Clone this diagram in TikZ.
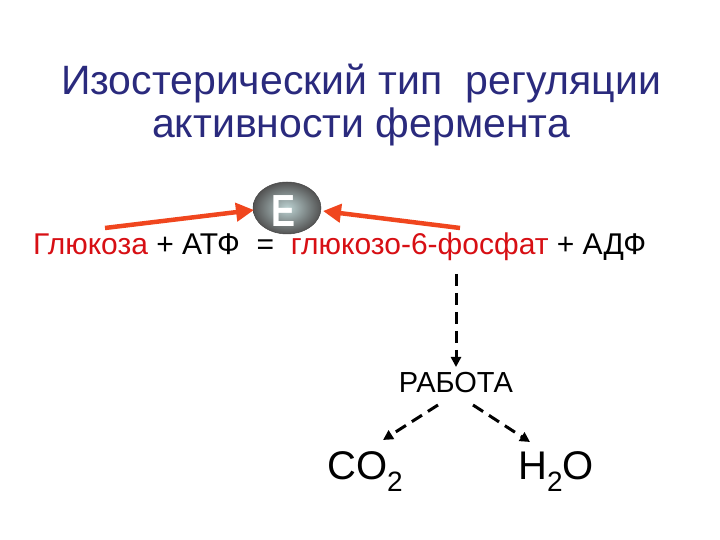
\documentclass[tikz,border=0pt]{standalone}
\usepackage{fontspec}
\setmainfont{Liberation Sans}
\usetikzlibrary{arrows.meta,shapes.geometric}
\definecolor{titleblue}{RGB}{42,42,125}
\definecolor{chemred}{RGB}{215,15,20}
\definecolor{arrred}{RGB}{240,70,30}
\newcommand{\subtwo}{\raisebox{-0.28em}{\fontsize{28}{28}\selectfont 2}}
\begin{document}
\begin{tikzpicture}[x=1pt,y=1pt,
  title/.style={font=\fontsize{41}{45}\selectfont, text=titleblue, anchor=base, inner sep=0pt},
  eq/.style={font=\fontsize{30}{33}\selectfont, inner sep=0pt, text height=21pt},
  redarrow/.style={draw=arrred, line width=4.5pt, -{Triangle[length=18pt,width=18pt]}},
  dasharrow/.style={draw=black, line width=3pt, dash pattern=on 12pt off 7pt, -{Triangle[length=10pt,width=10pt]}},
  big/.style={font=\fontsize{40}{44}\selectfont, inner sep=0pt, anchor=base}]
\useasboundingbox (0,0) rectangle (720,540);
\node[title] (t1) at (361,445) {Изостерический тип\ \ регуляции};
\node[title] (t2) at (361,402) {активности фермента};
\node[eq, anchor=base west] (eqline) at (33,285) {\textcolor{chemred}{Глюкоза} + АТФ\ \ =\ \ \textcolor{chemred}{глюкозо-6-фосфат} + АДФ};
\node[ellipse, minimum width=68pt, minimum height=52pt, inner sep=0pt, inner color=gray!50!teal!35!white, outer color=gray!65!black, draw=gray!55!black, line width=0.5pt] (E) at (287,332) {};
\node[font=\fontsize{45}{45}\selectfont\bfseries, text=white, inner sep=0pt, anchor=base, xscale=0.8] (Elabel) at (284,313) {E};
\coordinate (la) at (105,312);
\coordinate (latip) at (254,330);
\coordinate (ra) at (460,312);
\coordinate (ratip) at (323,329);
\draw[redarrow] (la) -- (latip);
\draw[redarrow] (ra) -- (ratip);
\coordinate (ds) at (456,266);
\node[font=\fontsize{29}{32}\selectfont, inner sep=0pt, anchor=base] (work) at (456,147) {РАБОТА};
\coordinate (dtip) at (456,173);
\draw[dasharrow] (ds) -- (dtip);
\node[big] (co2) at (365,60) {CO\subtwo};
\node[big] (h2o) at (556,60) {H\subtwo O};
\coordinate (wl) at (438,135);
\coordinate (wr) at (473,135);
\coordinate (cotip) at (383,100);
\coordinate (hotip) at (530,98);
\draw[dasharrow] (wl) -- (cotip);
\draw[dasharrow] (wr) -- (hotip);
\end{tikzpicture}
\end{document}
